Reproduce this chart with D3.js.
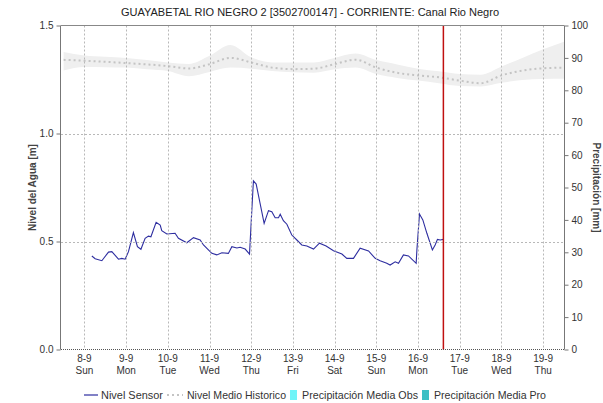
<!DOCTYPE html>
<html>
<head>
<meta charset="utf-8">
<script src="https://cdn.jsdelivr.net/npm/d3@7/dist/d3.min.js"></script>
<style>
  html, body { margin: 0; padding: 0; background: #fff; }
  svg { display: block; font-family: "Liberation Sans", Arial, sans-serif; }
</style>
</head>
<body>
<svg id="chart" width="603" height="403"></svg>
<script>
// Sensor water level (m), hourly-ish readings
const sensorTimes = [
  "2024-09-08T04:15","2024-09-08T06:10","2024-09-08T10:00","2024-09-08T13:50","2024-09-08T15:45",
  "2024-09-08T16:40","2024-09-08T19:35","2024-09-08T21:30","2024-09-08T23:25","2024-09-09T01:20",
  "2024-09-09T04:10","2024-09-09T06:30","2024-09-09T08:30","2024-09-09T10:55","2024-09-09T12:50",
  "2024-09-09T14:15","2024-09-09T17:15","2024-09-09T19:35","2024-09-09T20:30","2024-09-09T23:25",
  "2024-09-10T04:10","2024-09-10T06:05","2024-09-10T10:55","2024-09-10T14:45","2024-09-10T18:35",
  "2024-09-10T20:30","2024-09-10T23:20","2024-09-11T01:20","2024-09-11T04:10","2024-09-11T07:05",
  "2024-09-11T10:50","2024-09-11T12:50","2024-09-11T15:45","2024-09-11T17:35","2024-09-11T20:30",
  "2024-09-11T23:00","2024-09-12T00:20","2024-09-12T01:15","2024-09-12T02:50","2024-09-12T05:05",
  "2024-09-12T07:25","2024-09-12T09:55","2024-09-12T11:50","2024-09-12T13:45","2024-09-12T15:40",
  "2024-09-12T16:40","2024-09-12T18:30","2024-09-12T20:30","2024-09-12T23:20","2024-09-13T02:15",
  "2024-09-13T05:05","2024-09-13T08:00","2024-09-13T11:50","2024-09-13T15:15","2024-09-13T19:05",
  "2024-09-13T23:20","2024-09-14T04:10","2024-09-14T07:00","2024-09-14T10:50","2024-09-14T14:40",
  "2024-09-14T19:30","2024-09-14T23:20","2024-09-15T02:10","2024-09-15T06:00","2024-09-15T07:55",
  "2024-09-15T10:50","2024-09-15T12:45","2024-09-15T15:35","2024-09-15T18:30","2024-09-15T22:55",
  "2024-09-15T23:20","2024-09-16T00:50","2024-09-16T02:45","2024-09-16T05:05","2024-09-16T08:15",
  "2024-09-16T09:50","2024-09-16T11:10","2024-09-16T12:45","2024-09-16T14:35"
];
const sensorLevels = [
  0.433,0.420,0.411,0.451,0.453,
  0.445,0.418,0.422,0.418,0.453,
  0.541,0.476,0.464,0.515,0.525,
  0.522,0.589,0.576,0.550,0.535,
  0.538,0.515,0.494,0.518,0.507,
  0.484,0.461,0.445,0.438,0.448,
  0.445,0.476,0.470,0.473,0.465,
  0.442,0.646,0.781,0.766,0.677,
  0.584,0.643,0.638,0.610,0.610,
  0.626,0.596,0.580,0.530,0.507,
  0.484,0.479,0.465,0.492,0.479,
  0.457,0.442,0.422,0.422,0.469,
  0.456,0.422,0.411,0.399,0.391,
  0.406,0.399,0.438,0.433,0.399,
  0.461,0.627,0.600,0.538,0.461,
  0.484,0.510,0.507,0.510
];

// Historical mean level (m) with its spread band, every 12 h
const histTimes = [
  "2024-09-07T12:00","2024-09-08T00:00","2024-09-08T12:00","2024-09-09T00:00","2024-09-09T12:00",
  "2024-09-10T00:00","2024-09-10T12:00","2024-09-11T00:00","2024-09-11T12:00","2024-09-12T00:00",
  "2024-09-12T12:00","2024-09-13T00:00","2024-09-13T12:00","2024-09-14T00:00","2024-09-14T12:00",
  "2024-09-15T00:00","2024-09-15T12:00","2024-09-16T00:00","2024-09-16T12:00","2024-09-17T00:00",
  "2024-09-17T12:00","2024-09-18T00:00","2024-09-18T12:00","2024-09-19T00:00","2024-09-19T12:00"
];
const histMean = [1.341,1.337,1.332,1.326,1.320,1.312,1.301,1.321,1.350,1.329,1.305,1.298,1.300,1.321,1.342,1.305,1.281,1.269,1.260,1.245,1.233,1.269,1.291,1.302,1.305];
const histUpper = [1.377,1.361,1.355,1.350,1.340,1.329,1.322,1.360,1.410,1.353,1.329,1.329,1.329,1.350,1.370,1.340,1.320,1.300,1.288,1.275,1.272,1.310,1.350,1.390,1.425];
const histLower = [1.292,1.308,1.307,1.305,1.297,1.289,1.265,1.285,1.305,1.300,1.289,1.283,1.281,1.297,1.305,1.275,1.257,1.245,1.233,1.220,1.218,1.235,1.248,1.252,1.253];

// Axis settings
const levelTicks = [0.0, 0.5, 1.0, 1.5];
const levelGrid = [0.5, 1.0];
const rainTicks = [0,10,20,30,40,50,60,70,80,90,100];
const timeStart = "2024-09-07T10:30";
const timeEnd = "2024-09-19T12:00";
const nowMark = "2024-09-16T14:35";

const chartTitle = "GUAYABETAL RIO NEGRO 2 [3502700147] - CORRIENTE: Canal Rio Negro";
const legendItems = ["Nivel Sensor", "Nivel Medio Historico", "Precipitación Media Obs", "Precipitación Media Pro"];

const parse = d3.timeParse("%Y-%m-%dT%H:%M");
const svg = d3.select("#chart");
const m = { left: 61, right: 564, top: 25.5, bottom: 349.5 };

const x = d3.scaleTime().domain([parse(timeStart), parse(timeEnd)]).range([m.left, m.right]);
const yL = d3.scaleLinear().domain([0, 1.5]).range([m.bottom, m.top]);
const yR = d3.scaleLinear().domain([0, 100]).range([m.bottom, m.top]);

const dayTicks = d3.timeDay.range(parse("2024-09-08T00:00"), parse("2024-09-19T12:00"));

// Title
svg.append("text").attr("x", 310).attr("y", 16).attr("text-anchor", "middle")
  .attr("font-size", 11).attr("fill", "#222").text(chartTitle);

// Historical band and mean
const hist = histTimes.map((t, i) => ({ t: parse(t), m: histMean[i], u: histUpper[i], l: histLower[i] }));
svg.append("clipPath").attr("id", "plot").append("rect")
  .attr("x", m.left).attr("y", m.top).attr("width", m.right - m.left).attr("height", m.bottom - m.top);
const plot = svg.append("g").attr("clip-path", "url(#plot)");
plot.append("path").datum(hist)
  .attr("d", d3.area().x(d => x(d.t)).y0(d => yL(d.l)).y1(d => yL(d.u)).curve(d3.curveMonotoneX))
  .attr("fill", "#efefef");

// Grid
const grid = svg.append("g").attr("stroke", "#b8b8b8").attr("stroke-width", 1).attr("stroke-dasharray", "2,2");
grid.selectAll("line.v").data(dayTicks).join("line")
  .attr("x1", d => Math.round(x(d)) + 0.5).attr("x2", d => Math.round(x(d)) + 0.5)
  .attr("y1", m.top).attr("y2", m.bottom);
grid.selectAll("line.h").data(levelGrid).join("line")
  .attr("x1", m.left).attr("x2", m.right)
  .attr("y1", d => Math.round(yL(d)) + 0.5).attr("y2", d => Math.round(yL(d)) + 0.5);

plot.append("path").datum(hist)
  .attr("d", d3.line().x(d => x(d.t)).y(d => yL(d.m)).curve(d3.curveMonotoneX))
  .attr("fill", "none").attr("stroke", "#c4c4c4").attr("stroke-width", 2).attr("stroke-dasharray", "2,3");

// Sensor line
const sensor = sensorTimes.map((t, i) => ({ t: parse(t), v: sensorLevels[i] }));
plot.append("path").datum(sensor)
  .attr("d", d3.line().x(d => x(d.t)).y(d => yL(d.v)))
  .attr("fill", "none").attr("stroke", "#2e2ea0").attr("stroke-width", 1.1);

// Current time marker
svg.append("line")
  .attr("x1", x(parse(nowMark))).attr("x2", x(parse(nowMark)))
  .attr("y1", m.top).attr("y2", m.bottom)
  .attr("stroke", "#c01010").attr("stroke-width", 1.5);

// Frame
svg.append("line").attr("x1", m.left).attr("x2", m.right).attr("y1", m.top).attr("y2", m.top)
  .attr("stroke", "#888");
svg.append("line").attr("x1", m.left - 0.5).attr("x2", m.left - 0.5).attr("y1", m.top).attr("y2", m.bottom)
  .attr("stroke", "#777");
svg.append("line").attr("x1", m.right + 0.5).attr("x2", m.right + 0.5).attr("y1", m.top).attr("y2", m.bottom)
  .attr("stroke", "#777");
svg.append("line").attr("x1", m.left).attr("x2", m.right).attr("y1", m.bottom).attr("y2", m.bottom)
  .attr("stroke", "#555").attr("stroke-dasharray", "1,1");

// Left axis
const axL = d3.axisLeft(yL).tickValues(levelTicks).tickFormat(d3.format(".1f")).tickSize(4).tickPadding(3);
const gL = svg.append("g").attr("transform", `translate(${m.left - 0.5},0)`).call(axL);
gL.select(".domain").remove();
gL.selectAll("line").attr("stroke", "#777");
gL.selectAll("text").attr("font-size", 10).attr("fill", "#333").attr("font-family", "Liberation Sans, Arial, sans-serif");

// Right axis
const axR = d3.axisRight(yR).tickValues(rainTicks).tickSize(4).tickPadding(3);
const gR = svg.append("g").attr("transform", `translate(${m.right + 0.5},0)`).call(axR);
gR.select(".domain").remove();
gR.selectAll("line").attr("stroke", "#777");
gR.selectAll("text").attr("font-size", 10).attr("fill", "#333").attr("font-family", "Liberation Sans, Arial, sans-serif");

// Bottom axis: date and weekday
const fmtDay = d3.timeFormat("%-d-%-m");
const weekdays = ["Sun","Mon","Tue","Wed","Thu","Fri","Sat"];
const gB = svg.append("g").attr("font-size", 10).attr("fill", "#333").attr("text-anchor", "middle");
gB.selectAll("text.d").data(dayTicks).join("text")
  .attr("x", d => x(d)).attr("y", 362).text(d => fmtDay(d));
gB.selectAll("text.w").data(dayTicks).join("text")
  .attr("x", d => x(d)).attr("y", 374).text(d => weekdays[d.getDay()]);

// Axis titles
svg.append("text").attr("transform", `translate(36,${(m.top + m.bottom) / 2}) rotate(-90)`)
  .attr("text-anchor", "middle").attr("font-size", 10).attr("font-weight", "bold").attr("fill", "#444")
  .text("Nivel del Agua [m]");
svg.append("text").attr("transform", `translate(593,${(m.top + m.bottom) / 2}) rotate(90)`)
  .attr("text-anchor", "middle").attr("font-size", 10).attr("font-weight", "bold").attr("fill", "#444")
  .text("Precipitación [mm]");

// Legend
const lg = svg.append("g").attr("font-size", 11).attr("fill", "#333");
const ly = 399;
lg.append("line").attr("x1", 84).attr("x2", 98).attr("y1", ly - 4).attr("y2", ly - 4)
  .attr("stroke", "#2e2ea0").attr("stroke-width", 1.2);
lg.append("text").attr("x", 101).attr("y", ly).attr("textLength", 62).attr("lengthAdjust", "spacingAndGlyphs").text(legendItems[0]);
lg.append("line").attr("x1", 167).attr("x2", 183).attr("y1", ly - 4).attr("y2", ly - 4)
  .attr("stroke", "#c4c4c4").attr("stroke-width", 2).attr("stroke-dasharray", "2,3");
lg.append("text").attr("x", 187).attr("y", ly).attr("textLength", 99).attr("lengthAdjust", "spacingAndGlyphs").text(legendItems[1]);
lg.append("rect").attr("x", 290).attr("y", ly - 9).attr("width", 7).attr("height", 10).attr("fill", "#6ff4f8");
lg.append("text").attr("x", 302).attr("y", ly).attr("textLength", 116).attr("lengthAdjust", "spacingAndGlyphs").text(legendItems[2]);
lg.append("rect").attr("x", 422).attr("y", ly - 9).attr("width", 7).attr("height", 10).attr("fill", "#3cbfc4");
lg.append("text").attr("x", 434).attr("y", ly).attr("textLength", 112).attr("lengthAdjust", "spacingAndGlyphs").text(legendItems[3]);
</script>
</body>
</html>
